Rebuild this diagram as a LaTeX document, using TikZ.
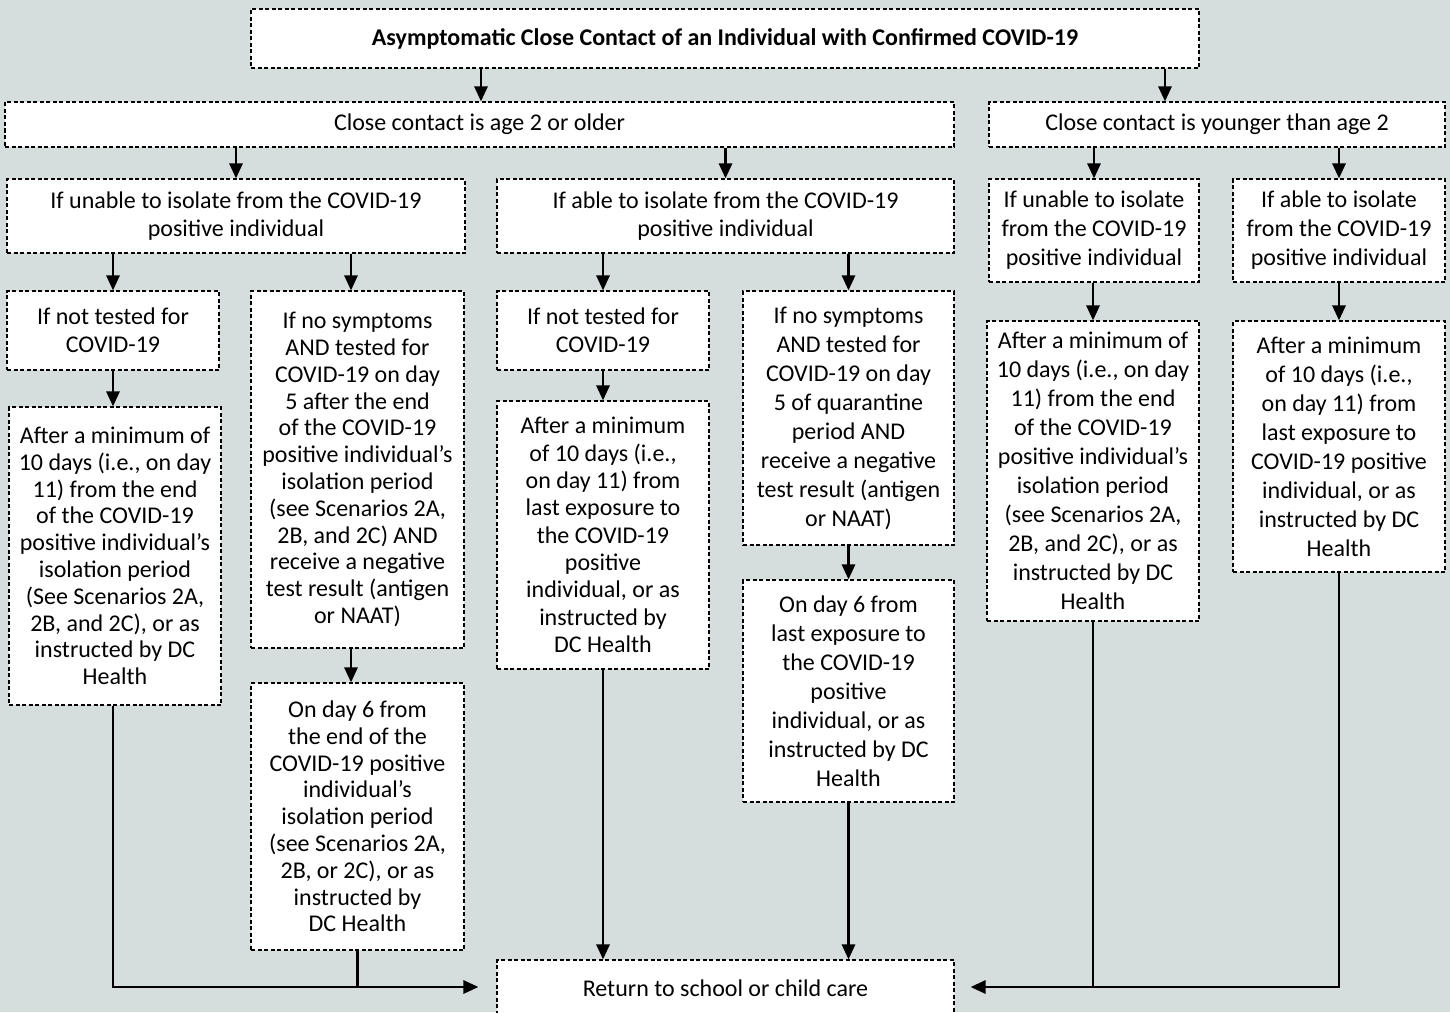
\documentclass[tikz,border=0pt]{standalone}
\usepackage{fontspec}
\setmainfont{Carlito}
\usetikzlibrary{arrows.meta,calc}
\definecolor{bg}{HTML}{D5DEDD}
\begin{document}
\begin{tikzpicture}[x=1pt,y=-1pt,
 box/.style={draw=black, fill=white, line width=1.1pt, dash pattern=on 4pt off 2.5pt, inner sep=0pt, align=center, font=\fontsize{24}{28}\selectfont},
 tight/.style={font=\fontsize{24}{26.8}\selectfont},
 loose/.style={font=\fontsize{24}{29}\selectfont},
 arr/.style={line width=2.8pt, -{Triangle[length=15pt,width=13pt]}},
 ln/.style={line width=2.8pt}]
\fill[bg] (0,0) rectangle (1450,1012);
\useasboundingbox (0,0) rectangle (1450,1012);

\node[box, minimum width=948pt, minimum height=59pt] (top) at (725,38.5) {\textbf{Asymptomatic Close Contact of an Individual with Confirmed COVID-19}};
\node[box, minimum width=949pt, minimum height=45pt] (age) at (479.5,124.5) {Close contact is age 2 or older};
\node[box, minimum width=456pt, minimum height=45pt] (young) at (1217,124.5) {Close contact is younger than age 2};

\node[box, minimum width=458pt, minimum height=74pt] (A) at (236,216) {If unable to isolate from the COVID-19\\positive individual};
\node[box, minimum width=457pt, minimum height=74pt] (B) at (725.5,216) {If able to isolate from the COVID-19\\positive individual};
\node[box, loose, minimum width=210pt, minimum height=103pt] (C) at (1094,230.5) {If unable to isolate\\from the COVID-19\\positive individual};
\node[box, loose, minimum width=212pt, minimum height=103pt] (D) at (1339,230.5) {If able to isolate\\from the COVID-19\\positive individual};

\node[box, minimum width=212pt, minimum height=79pt] (A1) at (113,330.5) {If not tested for\\COVID-19};
\node[box, tight, minimum width=213pt, minimum height=357pt] (A2) at (357.5,469.5) {If no symptoms\\AND tested for\\COVID-19 on day\\5 after the end\\of the COVID-19\\positive individual’s\\isolation period\\(see Scenarios 2A,\\2B, and 2C) AND\\receive a negative\\test result (antigen\\or NAAT)};
\node[box, minimum width=212pt, minimum height=79pt] (B1) at (603,330.5) {If not tested for\\COVID-19};
\node[box, loose, minimum width=211pt, minimum height=254pt] (B2) at (848.5,418) {If no symptoms\\AND tested for\\COVID-19 on day\\5 of quarantine\\period AND\\receive a negative\\test result (antigen\\or NAAT)};
\node[box, loose, minimum width=212pt, minimum height=300pt] (C1) at (1093,471) {After a minimum of\\10 days (i.e., on day\\11) from the end\\of the COVID-19\\positive individual’s\\isolation period\\(see Scenarios 2A,\\2B, and 2C), or as\\instructed by DC\\Health};
\node[box, loose, minimum width=212pt, minimum height=251pt] (D1) at (1339,446.5) {After a minimum\\of 10 days (i.e.,\\on day 11) from\\last exposure to\\COVID-19 positive\\individual, or as\\instructed by DC\\Health};

\node[box, tight, minimum width=212pt, minimum height=298pt] (A1b) at (115,556) {After a minimum of\\10 days (i.e., on day\\11) from the end\\of the COVID-19\\positive individual’s\\isolation period\\(See Scenarios 2A,\\2B, and 2C), or as\\instructed by DC\\Health};
\node[box, tight, minimum width=213pt, minimum height=267pt] (A2b) at (357.5,816.5) {On day 6 from\\the end of the\\COVID-19 positive\\individual’s\\isolation period\\(see Scenarios 2A,\\2B, or 2C), or as\\instructed by\\DC Health};
\node[box, font=\fontsize{24}{27.3}\selectfont, minimum width=212pt, minimum height=268pt] (B1b) at (603,535) {After a minimum\\of 10 days (i.e.,\\on day 11) from\\last exposure to\\the COVID-19\\positive\\individual, or as\\instructed by\\DC Health};
\node[box, loose, minimum width=211pt, minimum height=222pt] (B2b) at (848.5,691) {On day 6 from\\last exposure to\\the COVID-19\\positive\\individual, or as\\instructed by DC\\Health};

\node[box, minimum width=457pt, minimum height=56pt] (R) at (725.5,988) {Return to school or child care};

\coordinate (ty) at (1165,0);
\coordinate (ta) at (481,0);
\coordinate (xa2) at (351,0);

\draw[arr] (top.south -| ta) -- (age.north -| ta);
\draw[arr] (top.south -| ty) -- (young.north -| ty);
\draw[arr] (age.south -| A) -- (A.north);
\draw[arr] (age.south -| B) -- (B.north);
\draw[arr] (young.south -| C) -- (C.north);
\draw[arr] (young.south -| D) -- (D.north);
\draw[arr] (A.south -| A1) -- (A1.north);
\draw[arr] (A.south -| xa2) -- (A2.north -| xa2);
\draw[arr] (B.south -| B1) -- (B1.north);
\draw[arr] (B.south -| B2) -- (B2.north);
\draw[arr] (C.south -| C1) -- (C1.north);
\draw[arr] (D.south -| D1) -- (D1.north);
\draw[arr] (A1.south) -- (A1b.north -| A1);
\draw[arr] (A2.south -| xa2) -- (A2b.north -| xa2);
\draw[arr] (B1.south) -- (B1b.north);
\draw[arr] (B2.south) -- (B2b.north);

\coordinate (lj) at (0,987);
\draw[arr, shorten >=18pt] (A1b.south -| A1) |- (R.west |- lj);
\draw[ln] (A2b.south) -- (A2b.south |- lj);
\draw[arr] (B1b.south) -- (B1b.south |- R.north);
\draw[arr] (B2b.south) -- (B2b.south |- R.north);
\draw[arr, shorten >=16pt] (D1.south) |- (R.east |- lj);
\draw[ln] (C1.south) -- (C1.south |- lj);
\end{tikzpicture}
\end{document}
